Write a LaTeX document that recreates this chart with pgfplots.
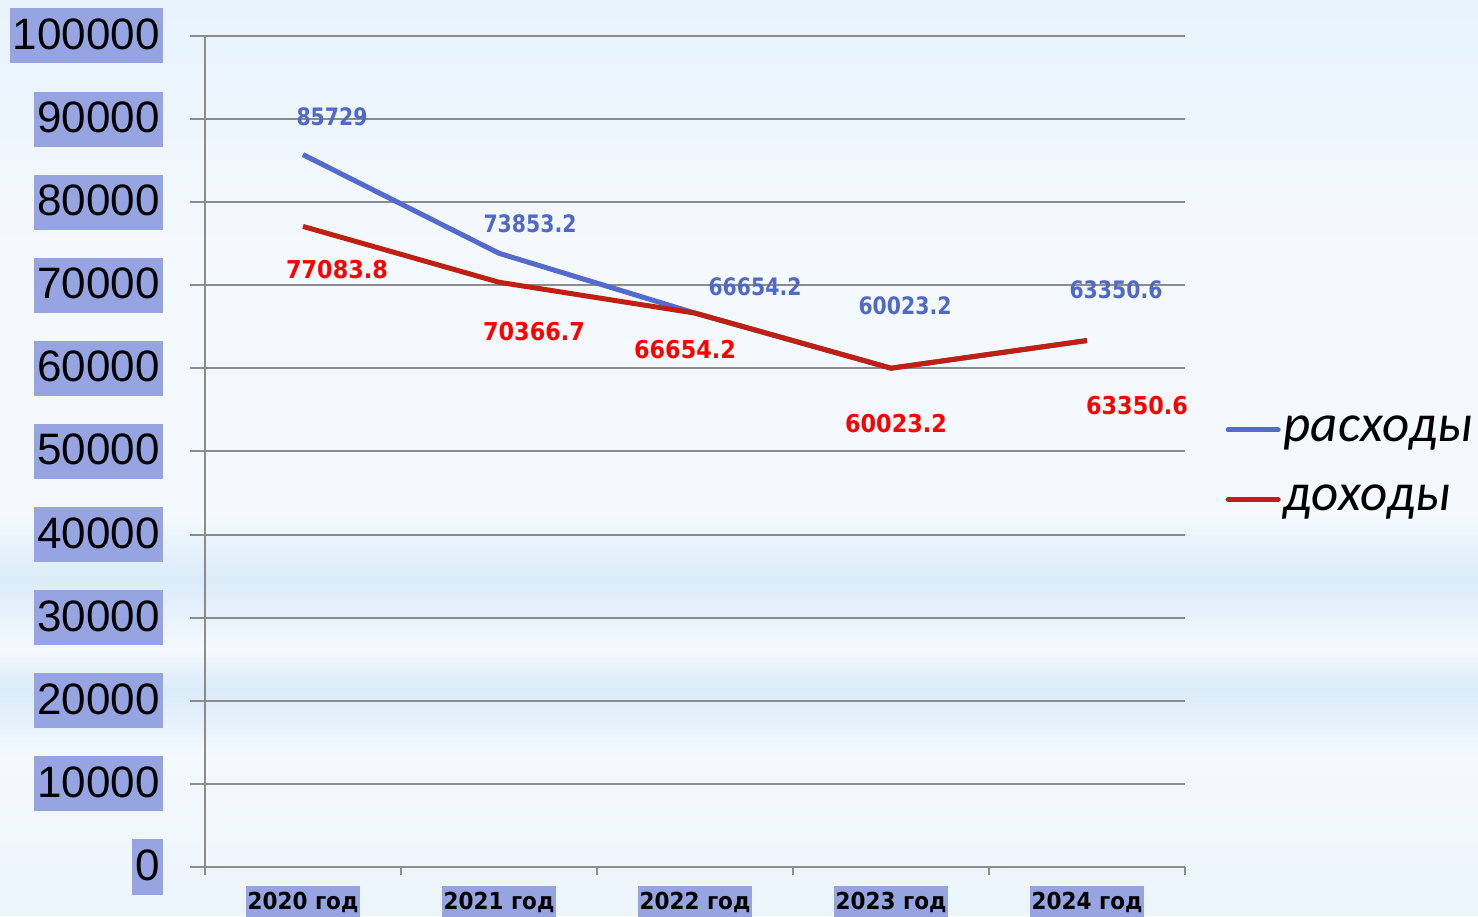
\documentclass[border=0pt]{standalone}
\usepackage{pgfplots}
\pgfplotsset{compat=1.18}
\usepackage{fontspec}
\setmainfont{Liberation Sans}
\newfontfamily\dvx{DejaVu Sans}[FakeStretch=0.92]
\newfontfamily\dvr{DejaVu Sans}[FakeStretch=0.91]
\newfontfamily\dvbl{DejaVu Sans}[FakeStretch=0.85]
\newfontfamily\carl{Carlito}
\definecolor{boxblue}{RGB}{150,165,225}
\definecolor{lblue}{RGB}{84,106,204}
\definecolor{lred}{RGB}{192,32,18}
\definecolor{tblue}{RGB}{80,105,200}
\definecolor{tred}{RGB}{255,0,0}
\definecolor{gridc}{RGB}{140,140,140}
\definecolor{bgA}{RGB}{236,245,252}
\definecolor{bgB}{RGB}{218,235,249}
\definecolor{bgC}{RGB}{244,249,254}
\definecolor{bgD}{RGB}{232,243,252}
\pgfdeclareverticalshading{bgshade}{739pt}{color(0pt)=(bgA); color(80pt)=(bgC); color(113pt)=(bgB); color(133pt)=(bgC); color(168pt)=(bgB); color(200pt)=(bgC); color(330pt)=(bgC); color(458pt)=(bgD)}
\begin{document}
\begin{tikzpicture}
\useasboundingbox (0,0) rectangle (739pt,458pt);
\node[inner sep=0pt, anchor=south west] at (0,0) {\pgfuseshading{bgshade}};
\begin{axis}[
  at={(102.5pt,24.5pt)}, anchor=south west,
  scale only axis, width=490pt, height=415.5pt,
  xmin=-0.5, xmax=4.5, ymin=0, ymax=100000,
  axis x line*=bottom, axis y line*=left,
  axis line style={gridc, line width=1pt},
  xtick={0,1,2,3,4},
  xticklabels={2020 год,2021 год,2022 год,2023 год,2024 год},
  minor xtick={-0.5,0.5,1.5,2.5,3.5,4.5},
  ytick={0,10000,20000,30000,40000,50000,60000,70000,80000,90000,100000},
  yticklabels={0,10000,20000,30000,40000,50000,60000,70000,80000,90000,100000},
  tick align=outside,
  major tick length=7.5pt,
  minor tick length=4pt,
  tick style={gridc, line width=1pt},
  major x tick style={draw opacity=0},
  ymajorgrids=true,
  grid style={gridc, line width=1pt},
  scaled y ticks=false,
  yticklabel style={font=\fontsize{22}{26}\selectfont, fill=boxblue, inner xsep=1.5pt, inner ysep=2pt, text height=18.5pt, text depth=5pt, anchor=east, xshift=-13.5pt},
  xticklabel style={font=\dvx\bfseries\fontsize{11.7}{14}\selectfont, fill=boxblue, inner xsep=1pt, inner ysep=2pt, text height=9.5pt, text depth=4pt, anchor=north, yshift=-2pt},
  legend style={at={(1.035,0.484)}, anchor=west, draw=none, fill=none, font=\carl\itshape\fontsize{26.5}{30}\selectfont, row sep=16.5pt, nodes={inner xsep=1.5pt}},
  legend cell align=left,
  legend image code/.code={\draw[#1, line cap=round] (0pt,0pt) -- (25pt,0pt);},
  clip=false,
]
\addplot[lblue, line width=2.5pt] coordinates {(0,85729) (1,73853.2) (2,66654.2) (3,60023.2) (4,63350.6)};
\addlegendentry{расходы}
\addplot[lred, line width=2.5pt] coordinates {(0,77083.8) (1,70366.7) (2,66654.2) (3,60023.2) (4,63350.6)};
\addlegendentry{доходы}
\tikzset{bl/.style={text=tblue, font=\dvbl\bfseries\fontsize{12}{14}\selectfont, inner sep=0pt}, rl/.style={text=tred, font=\dvr\bfseries\fontsize{12.3}{14}\selectfont, inner sep=0pt}}
\node[bl, xshift=14.5pt, yshift=19pt] at (axis cs:0,85729) {85729};
\node[bl, xshift=15.5pt, yshift=15pt] at (axis cs:1,73853.2) {73853.2};
\node[bl, xshift=30pt, yshift=13pt] at (axis cs:2,66654.2) {66654.2};
\node[bl, xshift=7pt, yshift=31pt] at (axis cs:3,60023.2) {60023.2};
\node[bl, xshift=14.5pt, yshift=25.5pt] at (axis cs:4,63350.6) {63350.6};
\node[rl, xshift=17pt, yshift=-21.5pt] at (axis cs:0,77083.8) {77083.8};
\node[rl, xshift=17.5pt, yshift=-24.5pt] at (axis cs:1,70366.7) {70366.7};
\node[rl, xshift=-5pt, yshift=-18pt] at (axis cs:2,66654.2) {66654.2};
\node[rl, xshift=2.5pt, yshift=-27.5pt] at (axis cs:3,60023.2) {60023.2};
\node[rl, xshift=25pt, yshift=-32.5pt] at (axis cs:4,63350.6) {63350.6};
\end{axis}
\end{tikzpicture}
\end{document}
